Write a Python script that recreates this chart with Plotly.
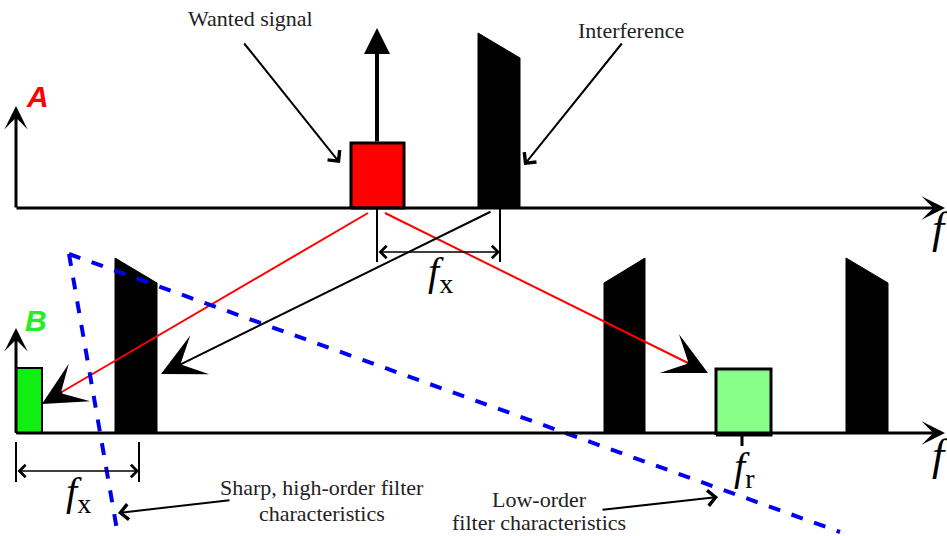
import plotly.graph_objects as go

# ---------------------------------------------------------------------------
# Diagram geometry (pixel space of the 947x536 picture, y grows downward)
AXIS_TOP_Y = 208
AXIS_BOT_Y = 433
AXIS_X0 = 16
AXIS_X1 = 945

# Wanted signal (red block) in spectrum A
wanted_x = [351, 404, 404, 351, 351]
wanted_y = [208, 208, 143, 143, 208]

# Interference blocks (sloped tops)
interf_top_x = [478, 478, 520, 520, 478]
interf_top_y = [208, 33, 58, 208, 208]
interf_b1_x = [115, 115, 157, 157, 115]
interf_b1_y = [433, 258, 283, 433, 433]
interf_b2_x = [604, 604, 645, 645, 604]
interf_b2_y = [433, 283, 258, 433, 433]
interf_b3_x = [846, 846, 888, 888, 846]
interf_b3_y = [433, 258, 283, 433, 433]

# Down-converted signals in spectrum B
if_green_x = [16, 42, 42, 16, 16]
if_green_y = [433, 433, 368, 368, 433]
img_green_x = [716, 771, 771, 716, 716]
img_green_y = [435, 435, 369, 369, 435]

# Mixing paths (red lines)
red_left_x = [368, 60]
red_left_y = [213, 393]
red_right_x = [385, 690]
red_right_y = [213, 364]

# Filter characteristics (blue dashed)
sharp_x = [69, 117]
sharp_y = [254, 530]
low_x = [69, 840]
low_y = [254, 532]

fig = go.Figure()


def poly(xs, ys, fill, edge="black", w=2):
    fig.add_trace(go.Scatter(x=xs, y=ys, mode="lines", fill="toself", fillcolor=fill,
                             line=dict(color=edge, width=w), hoverinfo="skip"))


def line(xs, ys, color, w=2, dash="solid"):
    fig.add_trace(go.Scatter(x=xs, y=ys, mode="lines", line=dict(color=color, width=w, dash=dash),
                             hoverinfo="skip"))


def arrow(x, y, ax, ay, w=2, size=1.6, head=3, color="black", side="end"):
    fig.add_annotation(x=x, y=y, ax=ax, ay=ay, xref="x", yref="y", axref="x", ayref="y",
                       text="", showarrow=True, arrowhead=head, startarrowhead=head, arrowside=side,
                       arrowwidth=w, arrowsize=size, startarrowsize=size,
                       arrowcolor=color, standoff=0, startstandoff=0)


def label(x, y, text, size=22, color="#222", family="Liberation Serif", **kw):
    fig.add_annotation(x=x, y=y, xref="x", yref="y", text=text, showarrow=False,
                       font=dict(size=size, color=color, family=family), **kw)


# Blocks
poly(wanted_x, wanted_y, "#ff0000", w=3)
poly(interf_top_x, interf_top_y, "black", w=1)
poly(interf_b1_x, interf_b1_y, "black", w=1)
poly(interf_b2_x, interf_b2_y, "black", w=1)
poly(interf_b3_x, interf_b3_y, "black", w=1)
poly(if_green_x, if_green_y, "#11ee11", w=2)
poly(img_green_x, img_green_y, "#88ff88", w=3)

# Mixing lines
line(red_left_x, red_left_y, "#ff0000", 2)
line(red_right_x, red_right_y, "#ff0000", 2)

# Ticks
line([377, 377], [208, 262], "black", 2)
line([500, 500], [208, 262], "black", 2)
line([742, 742], [435, 446], "black", 3)
line([16, 16], [442, 482], "black", 2)
line([139, 139], [442, 482], "black", 2)

# Filter characteristics
line(sharp_x, sharp_y, "#0000ee", 4, "dash")
line(low_x, low_y, "#0000ee", 4, "dash")

# Axes
arrow(AXIS_X1, AXIS_TOP_Y, AXIS_X0 - 1, AXIS_TOP_Y, w=3, size=1.3)
arrow(AXIS_X0, 106, AXIS_X0, AXIS_TOP_Y + 1, w=3, size=1.3)
arrow(AXIS_X1, AXIS_BOT_Y, AXIS_X0 - 1, AXIS_BOT_Y, w=3, size=1.3)
arrow(AXIS_X0, 328, AXIS_X0, AXIS_BOT_Y + 1, w=3, size=1.3)

# Carrier arrow above wanted signal
arrow(377, 28, 377, 143, w=4, size=1.3, head=2)

# Arrowheads of mixing paths
arrow(42, 404, 63, 392, w=2, size=3.6)
arrow(708, 373, 686, 362, w=2, size=3.6)
arrow(161, 374, 492, 211, w=2, size=3.6)

# Spacing arrows
arrow(500, 252, 377, 252, w=1.5, size=1.6, head=4, side="end+start")
arrow(139, 471, 16, 471, w=1.5, size=1.6, head=4, side="end+start")

# Label pointers
arrow(340, 163, 243, 42, w=2, size=1.5, head=4)
arrow(524, 165, 623, 42, w=2, size=1.5, head=4)
arrow(118, 513, 231, 500, w=2, size=1.5, head=4)
arrow(718, 497, 601, 510, w=2, size=1.5, head=4)

# Texts
label(250, 18, "Wanted signal")
label(631, 30, "Interference")
label(322, 487, "Sharp, high-order filter")
label(322, 513, "characteristics")
label(539, 499, "Low-order")
label(539, 522, "filter characteristics")
label(37, 96, "<b><i>A</i></b>", 30, "#ff0000", "Liberation Sans")
label(36, 320, "<b><i>B</i></b>", 30, "#22ee22", "Liberation Sans")
label(440, 274, "<i>f</i><sub>x</sub>", 40, "black")
label(78, 494, "<i>f</i><sub>x</sub>", 40, "black")
label(744, 469, "<i>f</i><sub>r</sub>", 40, "black")
label(930, 228, "<i>f</i>", 44, "black", xanchor="left")
label(930, 455, "<i>f</i>", 44, "black", xanchor="left")

fig.update_layout(
    width=947, height=536, margin=dict(l=0, r=0, t=0, b=0),
    paper_bgcolor="white", plot_bgcolor="white", showlegend=False,
    xaxis=dict(range=[0, 947], visible=False, fixedrange=True),
    yaxis=dict(range=[536, 0], visible=False, fixedrange=True),
)

fig.write_html("out.html", config={"displayModeBar": False},
               post_script="document.body.style.margin='0';")
